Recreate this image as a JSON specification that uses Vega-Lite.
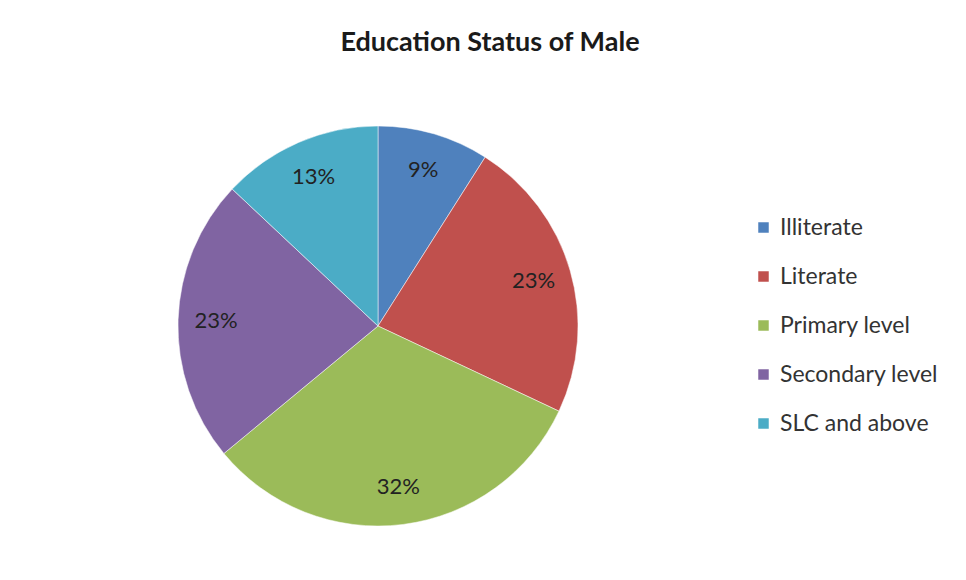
{
  "$schema": "https://vega.github.io/schema/vega-lite/v6.json",
  "autosize": "none",
  "width": 756,
  "height": 508,
  "padding": {"left": 0, "top": 72, "right": 210, "bottom": 0},
  "background": "white",
  "config": {"view": {"stroke": null}, "font": "Lato"},
  "title": {
    "text": "Education Status of Male",
    "font": "Lato",
    "fontSize": 27,
    "fontWeight": "bold",
    "color": "#1a1a1a",
    "anchor": "middle",
    "dx": 112,
    "offset": 15
  },
  "data": {
    "values": [
      {"category": "Illiterate", "share": 0.09, "idx": 1},
      {"category": "Literate", "share": 0.23, "idx": 2},
      {"category": "Primary level", "share": 0.32, "idx": 3},
      {"category": "Secondary level", "share": 0.23, "idx": 4},
      {"category": "SLC and above", "share": 0.13, "idx": 5}
    ]
  },
  "encoding": {
    "theta": {"field": "share", "type": "quantitative", "stack": true},
    "order": {"field": "idx", "type": "quantitative"},
    "color": {
      "field": "category",
      "type": "nominal",
      "scale": {
        "domain": ["Illiterate", "Literate", "Primary level", "Secondary level", "SLC and above"],
        "range": ["#4F81BD", "#C0504D", "#9BBB59", "#8064A2", "#4BACC6"]
      },
      "legend": {
        "title": null,
        "orient": "none",
        "legendX": 752,
        "legendY": 144,
        "symbolType": "square",
        "symbolSize": 110,
        "symbolStrokeWidth": 0,
        "labelFont": "Lato",
        "labelFontSize": 23,
        "labelColor": "#333333",
        "labelOffset": 5,
        "rowPadding": 25
      }
    }
  },
  "layer": [
    {"mark": {"type": "arc", "outerRadius": 200, "stroke": "white", "strokeWidth": 0.5}},
    {
      "mark": {"type": "text", "radius": 162, "fontSize": 22, "font": "Lato", "color": "#222222"},
      "encoding": {
        "text": {"field": "share", "type": "quantitative", "format": ".0%"},
        "color": {"value": "#222222"}
      }
    }
  ]
}
